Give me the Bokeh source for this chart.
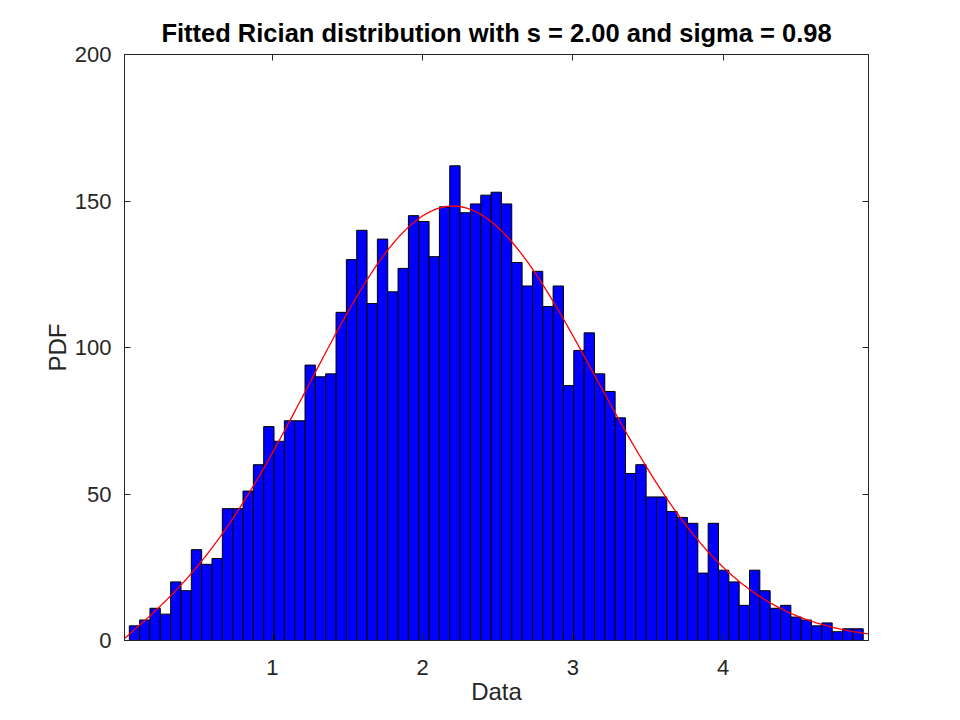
import numpy as np
from bokeh.plotting import figure
from bokeh.models import ColumnDataSource, LinearAxis, FixedTicker, Range1d, CustomJSTickFormatter
from bokeh.embed import file_html
from bokeh.resources import INLINE

# histogram counts (71 bins)
counts = [5, 7, 11, 9, 20, 17, 31, 26, 28, 45,
          45, 51, 60, 73, 68, 75, 75, 94, 90, 91,
          112, 130, 140, 115, 137, 119, 127, 145, 143, 131,
          148, 162, 146, 149, 152, 153, 149, 129, 121, 126,
          114, 121, 87, 99, 105, 91, 85, 76, 57, 60,
          49, 49, 44, 42, 40, 23, 40, 24, 20, 12,
          24, 17, 11, 12, 8, 7, 5, 6, 3, 4, 4]
first_edge = 0.048
bin_width = 0.0688

# fitted Rician parameters
s_fit = 2.00
sigma_fit = 0.98

x_min, x_max = 0.016, 4.968
x_ticks = [1, 2, 3, 4]
y_ticks = [0, 50, 100, 150, 200]

FONT = "Liberation Sans"
DARK = "#262626"

left = [first_edge + i * bin_width for i in range(len(counts))]
right = [l + bin_width for l in left]
bars = ColumnDataSource(data=dict(left=left, right=right, top=counts,
                                  bottom=[0] * len(counts)))

xs = np.linspace(x_min, x_max, 400)
pdf = xs / sigma_fit ** 2 * np.exp(-(xs ** 2 + s_fit ** 2) / (2 * sigma_fit ** 2)) \
    * np.i0(xs * s_fit / sigma_fit ** 2)
curve = ColumnDataSource(data=dict(x=xs, y=pdf * sum(counts) * bin_width))

p = figure(width=944, height=704, output_backend="svg", toolbar_location=None,
           x_range=Range1d(x_min, x_max), y_range=Range1d(0, 200),
           title="Fitted Rician distribution with s = 2.00 and sigma = 0.98",
           x_axis_label="Data", y_axis_label="PDF",
           min_border_left=124, min_border_right=76,
           min_border_top=54, min_border_bottom=64)
p.frame_width = 744
p.frame_height = 586

p.quad(left="left", right="right", top="top", bottom="bottom", source=bars,
       fill_color="#0000ff", line_color="black", line_width=1)
p.line(x="x", y="y", source=curve, line_color="red", line_width=1.3)

p.grid.visible = False
p.outline_line_color = DARK

p.title.text_font = FONT
p.title.text_font_size = "25.5px"
p.title.text_font_style = "bold"
p.title.text_color = "black"
p.title.align = "center"
p.title.standoff = 15

bottom_ax = p.below[0]
left_ax = p.left[0]
top_ax = LinearAxis(formatter=CustomJSTickFormatter(code="return ''"))
right_ax = LinearAxis(formatter=CustomJSTickFormatter(code="return ''"))
p.add_layout(right_ax, "right")
p.add_layout(top_ax, "above")

for ax in (bottom_ax, top_ax):
    ax.ticker = FixedTicker(ticks=x_ticks)
for ax in (left_ax, right_ax):
    ax.ticker = FixedTicker(ticks=y_ticks)

for ax in (bottom_ax, left_ax, top_ax, right_ax):
    ax.axis_line_color = DARK
    ax.major_tick_line_color = DARK
    ax.major_tick_in = 6
    ax.major_tick_out = 0
    ax.minor_tick_line_color = None
    ax.major_label_text_font = FONT
    ax.major_label_text_font_size = "22px"
    ax.major_label_text_color = DARK
    ax.axis_label_text_font = FONT
    ax.axis_label_text_font_size = "24px"
    ax.axis_label_text_font_style = "normal"
    ax.axis_label_text_color = DARK

bottom_ax.major_label_standoff = 19
bottom_ax.axis_label_standoff = 0
left_ax.major_label_standoff = 13
left_ax.axis_label_standoff = 1

open("out.html", "w").write(file_html(p, INLINE))
